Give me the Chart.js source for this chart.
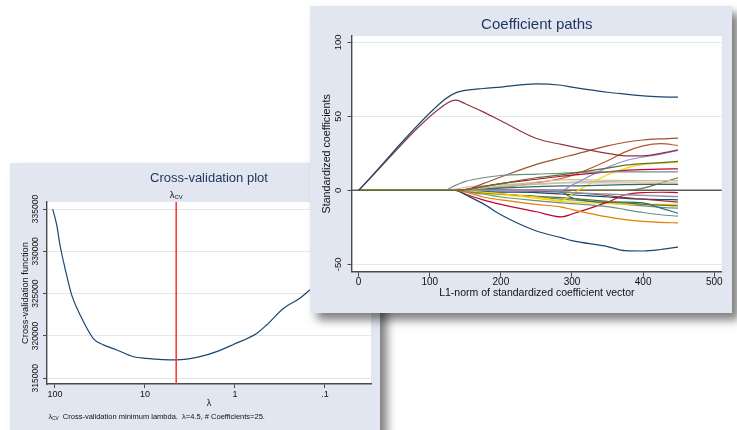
<!DOCTYPE html>
<html>
<head>
<meta charset="utf-8">
<script src="https://cdn.jsdelivr.net/npm/chart.js@4.4.1/dist/chart.umd.min.js"></script>
<style>
  html, body { margin: 0; padding: 0; background: #fff; width: 737px; height: 430px; overflow: hidden; }
  .panel { position: absolute; background: #e1e6f0; box-shadow: 7px 7px 9px rgba(0, 0, 0, 0.5); }
  #cvPanel { left: 10px; top: 163px; width: 370px; height: 290px; }
  #pathPanel { left: 310px; top: 6px; width: 422px; height: 307px; }
  canvas { display: block; }
</style>
</head>
<body>
<div class="panel" id="cvPanel"><canvas id="cvChart" width="370" height="290"></canvas></div>
<div class="panel" id="pathPanel"><canvas id="pathChart" width="422" height="307"></canvas></div>
<script>
// cross-validation curve (lambda, CV function)
var cvLambda = [106, 95.6, 88, 77.4, 65.3, 52.7, 37.5, 29, 20.6, 13.5, 9.6, 4.5, 2.45, 1.6, 1.04, 0.575, 0.445, 0.29, 0.19, 0.147, 0.1, 0.06, 0.031];
var cvValue = [335000, 333100, 330750, 328000, 324850, 322500, 319700, 318950, 318350, 317550, 317350, 317170, 317550, 318150, 319000, 320300, 321300, 323250, 324450, 325430, 326600, 328000, 329500];
var lambdaCV = 4.5;
var cvTickValues = [100, 10, 1, 0.1];
var cvTickLabels = ['100', '10', '1', '.1'];
var cvYTicks = [315000, 320000, 325000, 330000, 335000];

// coefficient paths, one value per L1-norm knot
var l1Norm = [0, 120, 137, 150, 175, 200, 250, 285, 300, 350, 375, 400, 425, 449];
var navyTop     = [0, 61, 66, 67.5, 68.8, 69.8, 72, 71, 69.8, 66.3, 65, 63.8, 63.2, 63];
var maroonTop   = [0, 57.5, 61, 58.5, 53, 47, 35, 31, 29.5, 25, 23.3, 23.3, 25, 27.3];
var forestUp    = [0, 0, 0, 0.5, 2.5, 4.5, 8.5, 10.5, 11.5, 15, 17, 18, 18.7, 19.5];
var orangeDown  = [0, 0, 0, -1, -4.5, -6.5, -9.5, -11.3, -13, -18, -19.8, -21, -21.7, -22];
var tealUp      = [0, 0, 3.5, 6, 8.5, 10, 11, 11.5, 12, 12.5, 12.5, 12.5, 12.5, 12.5];
var cranUp      = [0, 0, 0, 0.5, 2.5, 4.5, 7.5, 9.5, 10.3, 12.5, 13.5, 14, 14.3, 14.5];
var lavender    = [0, 0, 0, 0, 0, 0, 0, 0, 3.5, 15.5, 20, 22.5, 24.5, 27];
var khakiUp     = [0, 0, 0, 0.3, 1.5, 3, 5.5, 7, 7.2, 6.8, 6.6, 6.5, 6.5, 6.5];
var siennaUp    = [0, 0, 0, 0.3, 4.5, 9, 17.5, 22, 23.8, 30, 32.5, 34, 34.8, 35.3];
var blueSmall   = [0, 0, 0, 0, 0, 0, 0, -1, -1.5, -2.5, -3, -3.5, -4, -4.3];
var emeraldUp   = [0, 0, 0, 0.3, 1, 1.5, 2.5, 3, 3, 3.5, 3.8, 4, 4, 4];
var roseUp      = [0, 0, 0.8, 2, 3, 3.8, 4.5, 5, 5, 5, 5, 5, 5, 5];
var goldV       = [0, 0, 0, -0.3, -1.2, -2.3, -4.5, -6.9, -2.5, 10.5, 14.8, 17.5, 18.3, 18.8];
var grayUp      = [0, 0, 0, 0.3, 1.5, 2.5, 4, 5, 5.5, 6, 6.3, 6.5, 6.5, 6.5];
var navyDown    = [0, 0, 0, -3, -9, -16.5, -27.5, -32, -34, -38, -40.8, -41, -40, -38.4];
var maroonDown  = [0, 0, 0, 0, 0, 0, -0.5, -1, -1.5, -3.5, -5, -6, -7, -8];
var forestDown  = [0, 0, 0, -0.5, -1.5, -2.5, -4, -5, -5.5, -7.5, -8.5, -9.5, -10, -10.5];
var rustUp      = [0, 0, 0, 0, 1, 2, 5, 8, 10, 20, 26, 30, 31.5, 30.3];
var tealDown    = [0, 0, 0, -1, -2.5, -4.5, -7, -8.5, -9, -11, -13, -15, -16.5, -17.5];
var cranV       = [0, 0, 0, -2.5, -6.5, -9.5, -14.5, -18, -16, -8, -3, -1.5, -1.3, -1.5];
var emeraldDown = [0, 0, 0, 0, 0, 0, 0, -1, -5, -8, -8, -8.5, -12, -15.5];
var goldDown    = [0, 0, 0, -0.5, -2, -3, -5.5, -7.5, -8, -9, -9.3, -9.5, -9.5, -9.5];
var navySmall   = [0, 0, 0, -0.3, -0.8, -1.2, -1.5, -2.5, -3, -4.5, -5.5, -6, -6.2, -6.4];
var roseDown    = [0, 0, 0, 0, -0.3, -0.5, -1, -1.5, -1.8, -2.5, -3, -3.2, -3.5, -4];
var tealSmall   = [0, 0, 0, -0.5, -1.5, -2.5, -4.5, -6, -6.5, -8.5, -9.5, -10.5, -11.5, -12];
var brownLate   = [0, 0, 0, 0, 0, 0, 0, 0, 0, 0, 0, 1.5, 5, 8.5];
var l1Ticks = [0, 100, 200, 300, 400, 500];
var coefTicks = [-50, 0, 50, 100];

var pathSeries = [navyTop, maroonTop, forestUp, orangeDown, tealUp, cranUp, lavender, khakiUp, siennaUp,
  blueSmall, emeraldUp, roseUp, goldV, grayUp, navyDown, maroonDown, forestDown, rustUp, tealDown,
  cranV, emeraldDown, goldDown, navySmall, roseDown, tealSmall, brownLate];
var pathColors = ['#1a476f', '#90353b', '#55752f', '#e37e00', '#6e8e84', '#c10534', '#938dd2', '#cac27e', '#a0522d',
  '#7b92a8', '#2d6d66', '#e0b7b0', '#ffd200', '#b4b9c2', '#1a476f', '#90353b', '#55752f', '#b8552e', '#6e8e84',
  '#c10534', '#2d6d66', '#ffd200', '#1a476f', '#e0b7b0', '#6e8e84', '#7d6d38'];

var FONT = '"Liberation Sans", Arial, sans-serif';
var AXIS = '#4a4a4a';
var GRID = '#e2e6f0';
var TITLE = '#24355f';

function txt(ctx, s, x, y, size, color, align, rot) {
  ctx.save();
  ctx.translate(x, y);
  if (rot) ctx.rotate(rot);
  ctx.font = size + 'px ' + FONT;
  ctx.fillStyle = color;
  ctx.textAlign = align || 'center';
  ctx.textBaseline = 'middle';
  ctx.fillText(s, 0, 0);
  ctx.restore();
}

// lambda with a small "CV" subscript
function lambdaCv(ctx, x, y, size, align) {
  ctx.save();
  ctx.font = size + 'px ' + FONT;
  var w1 = ctx.measureText('λ').width;
  ctx.font = (size * 0.62) + 'px ' + FONT;
  var w2 = ctx.measureText('CV').width;
  ctx.restore();
  var x0 = align === 'left' ? x : x - (w1 + w2) / 2;
  txt(ctx, 'λ', x0, y, size, '#111', 'left');
  txt(ctx, 'CV', x0 + w1, y + size * 0.22, size * 0.62, '#111', 'left');
  return x0 + w1 + w2;
}

var plotBg = {
  id: 'plotBg',
  beforeDraw: function (chart) {
    var a = chart.chartArea, ctx = chart.ctx;
    ctx.save();
    ctx.fillStyle = '#fff';
    ctx.fillRect(a.left, a.top, a.right - a.left, a.bottom - a.top);
    ctx.restore();
  }
};

function yTickLabels(chart, x, size) {
  var s = chart.scales.y;
  s.ticks.forEach(function (t) {
    txt(chart.ctx, String(t.value), x, s.getPixelForValue(t.value), size, '#111', 'center', -Math.PI / 2);
  });
}

var cvDeco = {
  id: 'cvDeco',
  afterDatasetsDraw: function (chart) {
    var a = chart.chartArea, ctx = chart.ctx;
    var x = chart.scales.x.getPixelForValue(lambdaCV);
    ctx.save();
    ctx.strokeStyle = '#ff3c3c';
    ctx.lineWidth = 1.6;
    ctx.beginPath();
    ctx.moveTo(x, a.top);
    ctx.lineTo(x, a.bottom);
    ctx.stroke();
    ctx.restore();
  },
  afterDraw: function (chart) {
    var a = chart.chartArea, ctx = chart.ctx;
    var cx = (a.left + a.right) / 2;
    txt(ctx, 'Cross-validation plot', cx, 15, 13, TITLE);
    lambdaCv(ctx, chart.scales.x.getPixelForValue(lambdaCV), 32, 9.5);
    txt(ctx, 'Cross-validation function', 15, (a.top + a.bottom) / 2, 9.3, '#111', 'center', -Math.PI / 2);
    yTickLabels(chart, 25.5, 8.5);
    txt(ctx, 'λ', cx, 240.5, 9, '#111');
    var nx = lambdaCv(ctx, 38.5, 253.7, 7.5, 'left');
    txt(ctx, '  Cross-validation minimum lambda.  λ=4.5, # Coefficients=25.', nx, 253.7, 7.5, '#111', 'left');
  }
};

var zeroLine = {
  id: 'zeroLine',
  beforeDatasetsDraw: function (chart) {
    var a = chart.chartArea, ctx = chart.ctx;
    var y = chart.scales.y.getPixelForValue(0);
    ctx.save();
    ctx.strokeStyle = '#5a5a5a';
    ctx.lineWidth = 1.5;
    ctx.beginPath();
    ctx.moveTo(a.left, y);
    ctx.lineTo(a.right, y);
    ctx.stroke();
    ctx.restore();
  },
  afterDraw: function (chart) {
    var a = chart.chartArea, ctx = chart.ctx;
    var cx = (a.left + a.right) / 2;
    txt(ctx, 'Coefficient paths', cx, 19, 15, TITLE);
    txt(ctx, 'Standardized coefficients', 16.7, (a.top + a.bottom) / 2, 10.7, '#111', 'center', -Math.PI / 2);
    yTickLabels(chart, 28.5, 9.5);
    txt(ctx, 'L1-norm of standardized coefficient vector', cx, 287.5, 10.5, '#111');
  }
};

new Chart(document.getElementById('cvChart'), {
  type: 'line',
  data: {
    datasets: [{
      data: cvLambda.map(function (l, i) { return { x: l, y: cvValue[i] }; }),
      borderColor: '#1a476f',
      borderWidth: 1.2,
      pointRadius: 0,
      cubicInterpolationMode: 'monotone'
    }]
  },
  options: {
    responsive: false,
    animation: false,
    layout: { padding: { left: 0, top: 39, right: 9, bottom: 0 } },
    plugins: { legend: { display: false }, title: { display: false }, tooltip: { enabled: false } },
    scales: {
      x: {
        type: 'logarithmic',
        reverse: true,
        min: 0.0308,
        max: 122.7,
        afterBuildTicks: function (s) { s.ticks = cvTickValues.map(function (v) { return { value: v }; }); },
        afterFit: function (s) { s.height = 69; },
        grid: { drawOnChartArea: false, tickLength: 4, tickColor: AXIS },
        border: { color: AXIS, width: 1.4 },
        ticks: {
          font: { family: FONT, size: 9 }, color: '#111', padding: 1, maxRotation: 0, autoSkip: false,
          callback: function (v) { return cvTickLabels[cvTickValues.indexOf(v)]; }
        }
      },
      y: {
        min: 314325,
        max: 335830,
        afterBuildTicks: function (s) { s.ticks = cvYTicks.map(function (v) { return { value: v }; }); },
        afterFit: function (s) { s.width = 37; },
        grid: { color: GRID, tickLength: 4, tickColor: AXIS },
        border: { color: AXIS, width: 1.4 },
        ticks: { display: false }
      }
    }
  },
  plugins: [plotBg, cvDeco]
});

new Chart(document.getElementById('pathChart'), {
  type: 'line',
  data: {
    datasets: pathSeries.map(function (vals, k) {
      return {
        data: l1Norm.map(function (x, i) { return { x: x, y: vals[i] }; }),
        borderColor: pathColors[k],
        borderWidth: 1.2,
        pointRadius: 0,
        cubicInterpolationMode: 'monotone'
      };
    })
  },
  options: {
    responsive: false,
    animation: false,
    layout: { padding: { left: 0, top: 30, right: 10.3, bottom: 0 } },
    plugins: { legend: { display: false }, title: { display: false }, tooltip: { enabled: false } },
    scales: {
      x: {
        type: 'linear',
        min: -9.3,
        max: 510.5,
        afterBuildTicks: function (s) { s.ticks = l1Ticks.map(function (v) { return { value: v }; }); },
        afterFit: function (s) { s.height = 41.3; },
        grid: { drawOnChartArea: false, tickLength: 5, tickColor: AXIS },
        border: { color: AXIS, width: 1.4 },
        ticks: { font: { family: FONT, size: 10 }, color: '#111', padding: 0, maxRotation: 0, autoSkip: false }
      },
      y: {
        min: -55,
        max: 104.3,
        afterBuildTicks: function (s) { s.ticks = coefTicks.map(function (v) { return { value: v }; }); },
        afterFit: function (s) { s.width = 42; },
        grid: { color: GRID, tickLength: 4.5, tickColor: AXIS },
        border: { color: AXIS, width: 1.4 },
        ticks: { display: false }
      }
    }
  },
  plugins: [plotBg, zeroLine]
});
</script>
</body>
</html>
